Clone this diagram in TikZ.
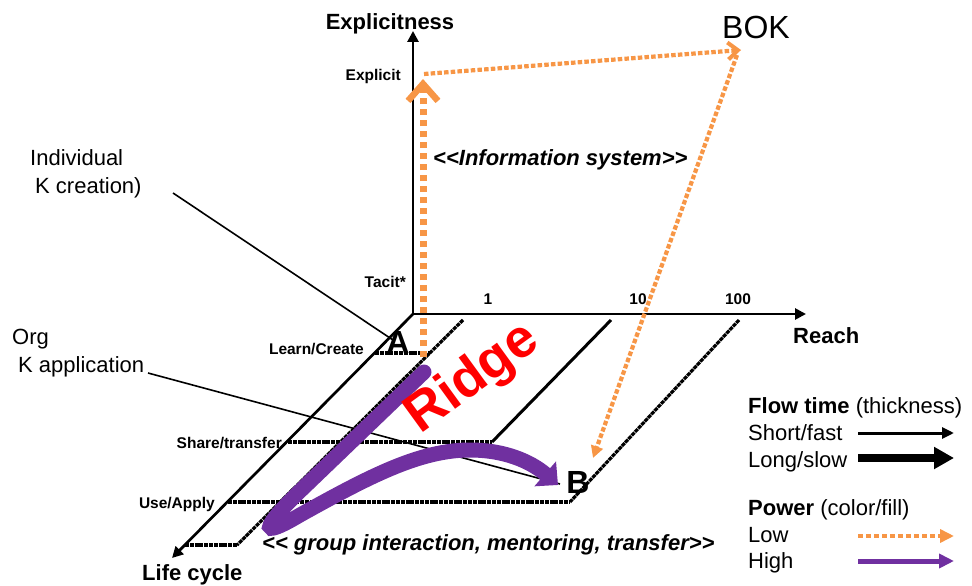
\documentclass[tikz,border=0pt]{standalone}
\usepackage{fontspec}
\setmainfont{Liberation Sans}
\usetikzlibrary{arrows.meta}
\definecolor{orng}{RGB}{247,150,70}
\definecolor{purp}{RGB}{112,48,160}
\begin{document}
\begin{tikzpicture}[x=1pt,y=-1pt,
  lbl/.style={font=\fontsize{15.5}{18}\selectfont\bfseries, inner sep=0pt},
  big/.style={font=\fontsize{22}{26}\selectfont\bfseries, inner sep=0pt},
  bigit/.style={font=\fontsize{22}{26}\selectfont\bfseries\itshape, inner sep=0pt},
  txt/.style={font=\fontsize{22}{26}\selectfont, inner sep=0pt},
  letter/.style={font=\fontsize{32}{36}\selectfont\bfseries, inner sep=0pt},
  axisline/.style={line width=2.7pt, -{Triangle[length=11pt,width=11pt]}},
  gridsolid/.style={line width=3pt},
  griddot/.style={line width=3.2pt, dash pattern=on 4pt off 0.8pt},
  leader/.style={line width=1.6pt},
  lowthick/.style={orng, line width=7pt, dash pattern=on 6pt off 5pt},
  lowthin/.style={orng, line width=4.2pt, dash pattern=on 4.5pt off 2.2pt},
  high/.style={purp, line width=15pt, line cap=round},
]
\useasboundingbox (0,0) rectangle (972,586);

% axes
\coordinate (O) at (413,314);
\coordinate (Ytip) at (413,31);
\coordinate (Xtip) at (806,314);
\coordinate (Ztip) at (172,558);
\draw[axisline] (O) -- (Ytip);
\draw[axisline] (O) -- (Xtip);
\draw[axisline] (O) -- (Ztip);

% depth grid lines
\coordinate (g1a) at (463,320);   \coordinate (g1b) at (237,545);
\coordinate (g10a) at (611,320);  \coordinate (g10b) at (492,442);
\coordinate (g100a) at (739,320); \coordinate (g100b) at (570,502);
\draw[griddot] (g1a) -- (g1b);
\draw[gridsolid] (g10a) -- (g10b);
\draw[griddot] (g100a) -- (g100b);

% level lines
\coordinate (hLCa) at (375,353); \coordinate (hLCb) at (430,353);
\coordinate (hSTa) at (288,442);
\coordinate (hUAa) at (228,502);
\coordinate (hBTa) at (185,545);
\draw[griddot] (hLCa) -- (hLCb);
\draw[griddot] (hSTa) -- (g10b);
\draw[griddot] (hUAa) -- (g100b);
\draw[griddot] (hBTa) -- (g1b);

% axis labels
\node[big, anchor=base] (expl) at (390,29.5) {Explicitness};
\node[big, anchor=base west] (reach) at (793,343) {Reach};
\node[big, anchor=base west] (life) at (142,580) {Life cycle};
\node[lbl, anchor=base east] (explicit) at (401,81) {Explicit};
\node[lbl, anchor=base east] (tacit) at (406,287) {Tacit*};
\node[lbl, anchor=base east] (learn) at (364,354) {Learn/Create};
\node[lbl, anchor=base east] (share) at (282,448) {Share/transfer};
\node[lbl, anchor=base east] (use) at (215,508) {Use/Apply};
\node[lbl, anchor=base] (r1) at (488,304) {1};
\node[lbl, anchor=base] (r10) at (638,304) {10};
\node[lbl, anchor=base] (r100) at (738,304) {100};

% BOK and letters
\node[font=\fontsize{32}{36}\selectfont, inner sep=0pt, anchor=base west] (bok) at (722,39) {BOK};
\node[letter, anchor=base] (A) at (398,353) {A};
\node[letter, anchor=base] (B) at (578,493) {B};

% side texts
\node[txt, anchor=base west] (ind1) at (30,165) {Individual};
\node[txt, anchor=base west] (ind2) at (35,193) {K creation)};
\node[txt, anchor=base west] (org1) at (12,344) {Org};
\node[txt, anchor=base west] (org2) at (18,372) {K application};
\coordinate (l1a) at (173,193); \coordinate (l1b) at (393,340);
\coordinate (l2a) at (148,373); \coordinate (l2b) at (560,484);
\draw[leader] (l1a) -- (l1b);
\draw[leader] (l2a) -- (l2b);

% italic texts
\node[bigit, anchor=base west] (infosys) at (433,165) {<{}<Information system>{}>};
\node[bigit, anchor=base west] (group) at (262,550) {<{}< group interaction, mentoring, transfer>{}>};

% orange flows
\coordinate (v0) at (423,357); \coordinate (v1) at (423,79);
\draw[lowthick, -{Straight Barb[length=17pt,width=30pt,line width=6.5pt]}] (v0) -- (v1);
\coordinate (e0) at (424,74); \coordinate (e1) at (741,50);
\draw[lowthin, -{Straight Barb[length=10pt,width=17pt,line width=4pt]}] (e0) -- (e1);
\coordinate (k0) at (737,55); \coordinate (k1) at (593,458);
\draw[lowthin, -{Triangle[length=12pt,width=12pt]}] (k0) -- (k1);

% purple ridge flow
\coordinate (p0) at (424,372);
\coordinate (p1) at (298,493);
\coordinate (p2) at (300,515);
\coordinate (p3) at (470,450);
\coordinate (p4) at (558,485);
\draw[high, -{Triangle[length=17pt,width=32pt]}] (p0) -- (p1)
  .. controls (262,528) and (258,540) .. (p2)
  .. controls (370,476) and (420,450) .. (p3)
  .. controls (510,450) and (535,465) .. (p4);

\node[font=\fontsize{54}{60}\selectfont\bfseries, text=red, inner sep=0pt, rotate=36] (ridge) at (473,379) {Ridge};

% legend
\node[txt, anchor=base west] (ft) at (748,413) {\textbf{Flow time} (thickness)};
\node[txt, anchor=base west] (sf) at (748,440) {Short/fast};
\node[txt, anchor=base west] (ls) at (748,467) {Long/slow};
\node[txt, anchor=base west] (pw) at (748,515) {\textbf{Power} (color/fill)};
\node[txt, anchor=base west] (lo) at (748,542) {Low};
\node[txt, anchor=base west] (hi) at (748,568) {High};
\coordinate (a1) at (858,433); \coordinate (b1) at (954,433);
\coordinate (a2) at (858,458); \coordinate (b2) at (954,458);
\coordinate (a3) at (858,536); \coordinate (b3) at (954,536);
\coordinate (a4) at (858,561); \coordinate (b4) at (954,561);
\draw[line width=3pt, -{Triangle[length=12pt,width=11pt]}] (a1) -- (b1);
\draw[line width=8pt, -{Triangle[length=20pt,width=21pt]}] (a2) -- (b2);
\draw[orng, line width=4.5pt, dash pattern=on 5pt off 3pt, -{Triangle[length=14pt,width=13pt]}] (a3) -- (b3);
\draw[purp, line width=5pt, -{Triangle[length=15pt,width=14pt]}] (a4) -- (b4);
\end{tikzpicture}
\end{document}
